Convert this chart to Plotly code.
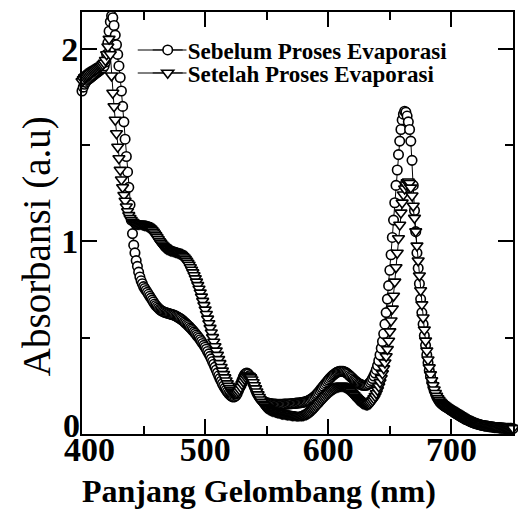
import plotly.graph_objects as go

wavelength = list(range(400, 751))

sebelum = [
    1.78, 1.80, 1.815, 1.825, 1.835, 1.84, 1.845, 1.85, 1.855, 1.86,
    1.865, 1.87, 1.875, 1.88, 1.885, 1.89, 1.895, 1.90, 1.91, 1.93,
    1.97, 2.03, 2.09, 2.14, 2.17, 2.16, 2.12, 2.07, 2.02, 1.97,
    1.91, 1.85, 1.78, 1.70, 1.62, 1.53, 1.44, 1.36, 1.28, 1.19,
    1.11, 1.04, 0.98, 0.94, 0.90, 0.87, 0.84, 0.815, 0.795, 0.78,
    0.765, 0.755, 0.745, 0.735, 0.725, 0.715, 0.705, 0.695, 0.685, 0.675,
    0.667, 0.66, 0.653, 0.647, 0.642, 0.638, 0.635, 0.632, 0.63, 0.628,
    0.626, 0.624, 0.622, 0.62, 0.618, 0.616, 0.613, 0.61, 0.606, 0.602,
    0.598, 0.593, 0.588, 0.582, 0.576, 0.57, 0.564, 0.558, 0.551, 0.544,
    0.537, 0.53, 0.522, 0.514, 0.506, 0.498, 0.489, 0.48, 0.47, 0.46,
    0.45, 0.44, 0.428, 0.416, 0.403, 0.39, 0.376, 0.362, 0.347, 0.332,
    0.317, 0.302, 0.288, 0.274, 0.261, 0.249, 0.238, 0.228, 0.219, 0.211,
    0.204, 0.198, 0.194, 0.192, 0.194, 0.20, 0.21, 0.225, 0.243, 0.262,
    0.28, 0.296, 0.308, 0.315, 0.316, 0.312, 0.303, 0.29, 0.275, 0.258,
    0.242, 0.227, 0.213, 0.201, 0.191, 0.183, 0.176, 0.171, 0.167, 0.164,
    0.162, 0.16, 0.159, 0.158, 0.157, 0.156, 0.155, 0.155, 0.154, 0.154,
    0.154, 0.154, 0.154, 0.154, 0.155, 0.155, 0.155, 0.156, 0.156, 0.157,
    0.157, 0.158, 0.158, 0.159, 0.16, 0.16, 0.161, 0.162, 0.163, 0.164,
    0.165, 0.167, 0.169, 0.171, 0.174, 0.177, 0.181, 0.185, 0.19, 0.196,
    0.202, 0.209, 0.216, 0.224, 0.232, 0.24, 0.248, 0.256, 0.264, 0.272,
    0.28, 0.287, 0.294, 0.30, 0.306, 0.311, 0.316, 0.32, 0.323, 0.325,
    0.326, 0.326, 0.325, 0.323, 0.32, 0.316, 0.311, 0.305, 0.299, 0.293,
    0.287, 0.281, 0.275, 0.27, 0.265, 0.261, 0.258, 0.255, 0.253, 0.252,
    0.252, 0.253, 0.256, 0.261, 0.268, 0.277, 0.288, 0.301, 0.316, 0.334,
    0.355, 0.38, 0.41, 0.445, 0.48, 0.52, 0.57, 0.63, 0.70, 0.77,
    0.85, 0.93, 1.02, 1.11, 1.20, 1.29, 1.37, 1.45, 1.52, 1.58,
    1.63, 1.66, 1.675, 1.67, 1.65, 1.62, 1.58, 1.52, 1.42, 1.29,
    1.16, 1.05, 0.94, 0.86, 0.78, 0.70, 0.63, 0.57, 0.51, 0.46,
    0.41, 0.37, 0.33, 0.30, 0.27, 0.245, 0.225, 0.207, 0.193, 0.181,
    0.171, 0.163, 0.157, 0.151, 0.146, 0.142, 0.138, 0.134, 0.13, 0.126,
    0.122, 0.118, 0.113, 0.109, 0.105, 0.101, 0.097, 0.093, 0.089, 0.085,
    0.082, 0.078, 0.075, 0.072, 0.069, 0.066, 0.063, 0.06, 0.058, 0.056,
    0.054, 0.052, 0.05, 0.048, 0.047, 0.045, 0.044, 0.043, 0.042, 0.041,
    0.04, 0.039, 0.038, 0.037, 0.036, 0.035, 0.034, 0.034, 0.033, 0.033,
    0.032, 0.032, 0.031, 0.031, 0.03, 0.03, 0.03, 0.029, 0.029, 0.029,
    0.028,
]

setelah = [
    1.83, 1.84, 1.85, 1.855, 1.86, 1.865, 1.87, 1.875, 1.88, 1.884,
    1.888, 1.892, 1.896, 1.90, 1.904, 1.908, 1.912, 1.918, 1.926, 1.94,
    1.97, 2.01, 2.05, 1.97, 1.86, 1.77, 1.70, 1.63, 1.56, 1.49,
    1.43, 1.37, 1.32, 1.28, 1.24, 1.21, 1.18, 1.155, 1.135, 1.12,
    1.11, 1.10, 1.095, 1.09, 1.09, 1.09, 1.09, 1.09, 1.09, 1.088,
    1.086, 1.084, 1.082, 1.079, 1.075, 1.07, 1.064, 1.057, 1.049, 1.04,
    1.03, 1.02, 1.01, 1.0, 0.991, 0.983, 0.976, 0.97, 0.965, 0.961,
    0.958, 0.955, 0.953, 0.951, 0.949, 0.947, 0.945, 0.943, 0.94, 0.937,
    0.933, 0.928, 0.922, 0.915, 0.907, 0.898, 0.888, 0.877, 0.865, 0.852,
    0.838, 0.823, 0.807, 0.79, 0.772, 0.753, 0.733, 0.712, 0.69, 0.668,
    0.645, 0.622, 0.598, 0.574, 0.55, 0.526, 0.502, 0.478, 0.455, 0.432,
    0.41, 0.388, 0.367, 0.347, 0.328, 0.31, 0.293, 0.277, 0.262, 0.249,
    0.237, 0.227, 0.219, 0.213, 0.21, 0.21, 0.213, 0.22, 0.23, 0.243,
    0.258, 0.272, 0.285, 0.295, 0.301, 0.303, 0.30, 0.293, 0.282, 0.268,
    0.252, 0.236, 0.22, 0.205, 0.191, 0.178, 0.166, 0.156, 0.148, 0.141,
    0.136, 0.132, 0.128, 0.125, 0.122, 0.12, 0.118, 0.116, 0.114, 0.112,
    0.11, 0.109, 0.107, 0.106, 0.105, 0.104, 0.103, 0.102, 0.101, 0.10,
    0.099, 0.098, 0.097, 0.097, 0.096, 0.096, 0.096, 0.096, 0.096, 0.097,
    0.098, 0.10, 0.102, 0.105, 0.108, 0.112, 0.117, 0.122, 0.128, 0.134,
    0.141, 0.148, 0.155, 0.162, 0.169, 0.176, 0.183, 0.19, 0.197, 0.204,
    0.21, 0.216, 0.222, 0.227, 0.232, 0.236, 0.24, 0.243, 0.246, 0.248,
    0.249, 0.249, 0.248, 0.246, 0.243, 0.239, 0.234, 0.228, 0.221, 0.214,
    0.207, 0.20, 0.193, 0.186, 0.18, 0.174, 0.169, 0.164, 0.16, 0.157,
    0.155, 0.154, 0.154, 0.156, 0.16, 0.166, 0.174, 0.184, 0.196, 0.211,
    0.228, 0.247, 0.268, 0.29, 0.314, 0.34, 0.37, 0.403, 0.44, 0.483,
    0.532, 0.588, 0.65, 0.717, 0.79, 0.865, 0.94, 1.015, 1.085, 1.148,
    1.20, 1.242, 1.273, 1.294, 1.306, 1.31, 1.302, 1.278, 1.237, 1.184,
    1.121, 1.051, 0.977, 0.90, 0.822, 0.745, 0.672, 0.604, 0.541, 0.484,
    0.432, 0.386, 0.345, 0.309, 0.278, 0.252, 0.23, 0.212, 0.197, 0.185,
    0.175, 0.167, 0.16, 0.154, 0.149, 0.144, 0.139, 0.135, 0.131, 0.127,
    0.124, 0.12, 0.116, 0.112, 0.108, 0.104, 0.10, 0.096, 0.092, 0.088,
    0.085, 0.081, 0.078, 0.075, 0.072, 0.069, 0.066, 0.063, 0.061, 0.059,
    0.057, 0.055, 0.053, 0.051, 0.049, 0.048, 0.046, 0.045, 0.044, 0.043,
    0.042, 0.041, 0.04, 0.039, 0.038, 0.037, 0.036, 0.035, 0.035, 0.034,
    0.034, 0.033, 0.033, 0.032, 0.032, 0.031, 0.031, 0.031, 0.03, 0.03,
    0.03,
]

x_tick_vals = [400, 500, 600, 700]
x_tick_labels = ["400", "500", "600", "700"]
y_tick_vals = [0, 1, 2]
y_tick_labels = ["0", "1", "2"]

FONT = "Liberation Serif"
TICK_FONT = dict(family=FONT, size=34, color="black", weight="bold")

# Plot area in pixels (for placing paper-referenced texts)
L, R, T, B = 82, 515, 12, 434


def px_x(px):
    return (px - L) / (R - L)


def px_y(py):
    return (B - py) / (B - T)


fig = go.Figure()
fig.add_trace(go.Scatter(
    x=wavelength, y=sebelum, mode="lines+markers",
    name="Sebelum Proses Evaporasi", legend="legend",
    line=dict(color="black", width=1),
    marker=dict(symbol="circle", size=9.5, color="white",
                line=dict(color="black", width=1.6)),
    cliponaxis=False,
))
fig.add_trace(go.Scatter(
    x=wavelength, y=setelah, mode="lines+markers",
    name="Setelah Proses Evaporasi", legend="legend2",
    line=dict(color="black", width=1),
    marker=dict(symbol="triangle-down", size=10.5, color="white",
                line=dict(color="black", width=1.6)),
    cliponaxis=False,
))

axis_common = dict(
    showline=True, linecolor="black", linewidth=2, mirror="ticks",
    ticks="inside", ticklen=15, tickwidth=2, tickcolor="black",
    showgrid=False, zeroline=False, tickfont=TICK_FONT,
)

# first labels of each axis are placed as annotations (they sit offset in the original)
fig.update_xaxes(
    range=[400, 750], tickmode="array", tickvals=x_tick_vals,
    ticktext=[""] + x_tick_labels[1:], ticklabelstandoff=-16,
    minor=dict(ticks="inside", ticklen=8, tickwidth=2, tickcolor="black",
               tickvals=[450, 550, 650]),
    **axis_common,
)
fig.update_yaxes(
    range=[0, 2.19], tickmode="array", tickvals=y_tick_vals,
    ticktext=[""] + y_tick_labels[1:], ticklabelstandoff=-5,
    minor=dict(ticks="inside", ticklen=8, tickwidth=2, tickcolor="black",
               tickvals=[0.5, 1.5]),
    **axis_common,
)

legend_common = dict(
    font=dict(family=FONT, size=23, color="black", weight="bold"),
    bgcolor="rgba(0,0,0,0)", borderwidth=0,
    xanchor="left", yanchor="middle", itemwidth=30,
)

row_y = [50, 73]

fig.update_layout(
    width=518, height=512,
    margin=dict(l=L, r=518 - R, t=T, b=512 - B),
    paper_bgcolor="white", plot_bgcolor="white",
    showlegend=True,
    legend=dict(x=px_x(148), y=px_y(row_y[0]), **legend_common),
    legend2=dict(x=px_x(148), y=px_y(row_y[1]), **legend_common),
    shapes=[
        dict(type="line", xref="paper", yref="paper", layer="below",
             x0=px_x(138), x1=px_x(187), y0=px_y(ry), y1=px_y(ry),
             line=dict(color="black", width=1))
        for ry in row_y
    ],
    annotations=[
        dict(text=x_tick_labels[0], xref="paper", yref="paper",
             x=px_x(89.5), y=px_y(449), showarrow=False,
             xanchor="center", yanchor="middle", font=TICK_FONT),
        dict(text=y_tick_labels[0], xref="paper", yref="paper",
             x=px_x(82), y=px_y(425), showarrow=False,
             xanchor="right", yanchor="middle", font=TICK_FONT),
        dict(text="Panjang Gelombang (nm)", xref="paper", yref="paper",
             x=px_x(260), y=px_y(491), showarrow=False,
             xanchor="center", yanchor="middle",
             font=dict(family=FONT, size=32, color="black", weight="bold")),
        dict(text="Absorbansi (a.u)", xref="paper", yref="paper",
             x=px_x(37), y=px_y(246), showarrow=False,
             textangle=-90, xanchor="center", yanchor="middle",
             font=dict(family=FONT, size=39, color="black")),
    ],
)

fig.write_html("out.html")
